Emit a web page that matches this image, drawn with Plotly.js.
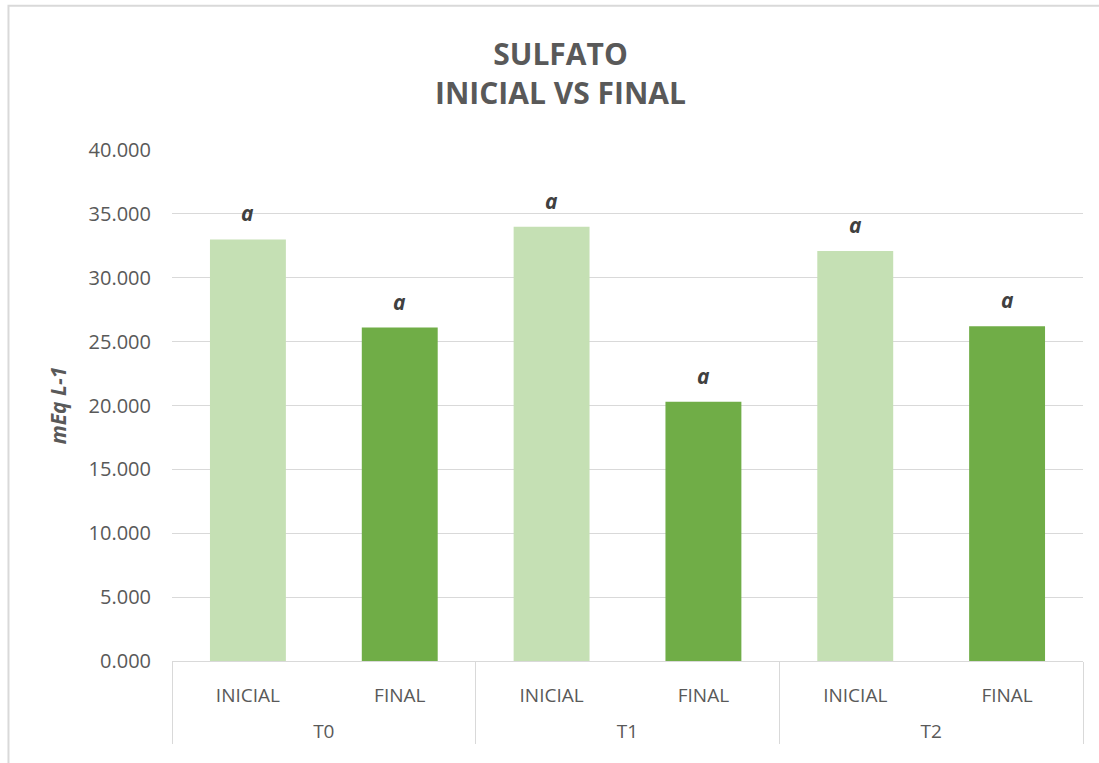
<!DOCTYPE html>
<html>
<head>
<meta charset="utf-8">
<script src="https://cdn.plot.ly/plotly-3.0.1.min.js"></script>
<style>html,body{margin:0;padding:0;background:#fff;}#chart{width:1099px;height:763px;}</style>
</head>
<body>
<div id="chart"></div>
<script>
const groups = ['T0','T0','T1','T1','T2','T2'];
const stages = ['INICIAL','FINAL','INICIAL','FINAL','INICIAL','FINAL'];
const values = [33.0, 26.1, 34.0, 20.3, 32.1, 26.2];
const letters = ['a','a','a','a','a','a'];
const yTicks = [0,5,10,15,20,25,30,35,40];

const colorInicial = '#C5E0B4';
const colorFinal = '#70AD47';
const barColors = stages.map(s => s === 'INICIAL' ? colorInicial : colorFinal);
// a blank second line under each stage label gives Excel's spacing between the two label rows
const stageLabels = stages.map(s => s + '<br>&nbsp;');

const trace = {
  type: 'bar',
  x: [groups, stageLabels],
  y: values,
  marker: {color: barColors},
  hoverinfo: 'y',
  showlegend: false
};

const annotations = values.map((v, i) => ({
  x: i, y: v, xref: 'x', yref: 'y',
  text: '<b><i>' + letters[i] + '</i></b>',
  showarrow: false, yanchor: 'bottom', yshift: 10,
  font: {family: 'Open Sans', size: 21, color: '#404040'}
}));

const layout = {
  width: 1099, height: 763,
  margin: {l: 172, r: 16, t: 150, b: 102},
  paper_bgcolor: '#fff', plot_bgcolor: '#fff',
  font: {family: 'Open Sans', color: '#595959'},
  title: {
    text: '<b>SULFATO</b><br><b>INICIAL VS FINAL</b>',
    font: {family: 'Open Sans', size: 30, color: '#595959'},
    x: 0.51, xanchor: 'center', y: 0.915, yanchor: 'top'
  },
  bargap: 0.5,
  xaxis: {
    type: 'multicategory',
    showdividers: true, dividercolor: '#D9D9D9', dividerwidth: 1,
    showline: true, linecolor: '#D9D9D9', linewidth: 1,
    tickfont: {family: 'Open Sans', size: 19, color: '#595959'},
    ticklabelstandoff: 17,
    ticks: '', showgrid: false
  },
  yaxis: {
    range: [0, 40], tickvals: yTicks, tickformat: '.3f',
    showgrid: true, gridcolor: '#D9D9D9', gridwidth: 1,
    zeroline: false, showline: false,
    tickfont: {family: 'Open Sans', size: 20, color: '#595959'},
    ticklabelstandoff: 20,
    title: {text: '<b><i>mEq L-1</i></b>', font: {family: 'Open Sans', size: 21, color: '#595959'}, standoff: 16}
  },
  annotations: annotations,
  shapes: [{
    type: 'rect', xref: 'paper', yref: 'paper',
    x0: -0.1795, x1: 1.03, y0: -0.23, y1: 1.2825,
    line: {color: '#D9D9D9', width: 2}
  }]
};

Plotly.newPlot('chart', [trace], layout, {displayModeBar: false, staticPlot: true});
</script>
</body>
</html>
